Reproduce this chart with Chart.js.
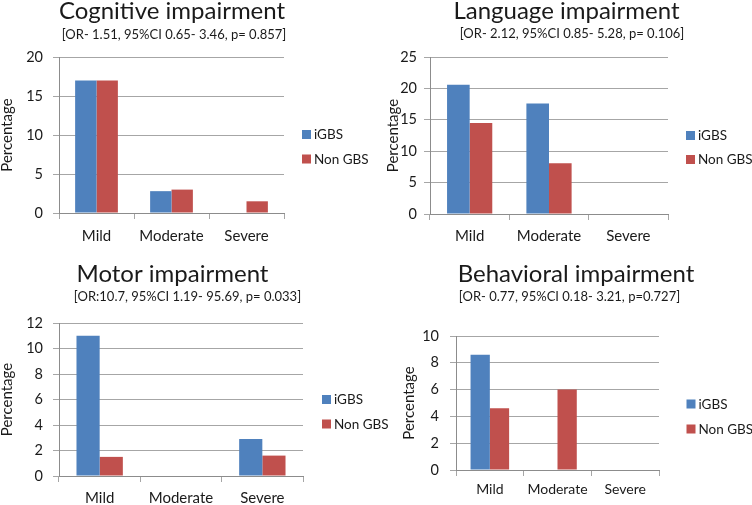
<!DOCTYPE html>
<html>
<head>
<meta charset="utf-8">
<script src="https://cdn.jsdelivr.net/npm/chart.js@4"></script>
<style>
  html, body { margin: 0; padding: 0; background: #ffffff; }
  #wrap { position: relative; width: 752px; height: 505px; overflow: hidden; background: #ffffff; }
  canvas { position: absolute; display: block; }
</style>
</head>
<body>
<div id="wrap">
  <canvas id="cognitive" width="376" height="250" style="left:0px;top:0px"></canvas>
  <canvas id="language" width="376" height="250" style="left:376px;top:0px"></canvas>
  <canvas id="behavioral" width="376" height="255" style="left:376px;top:250px"></canvas>
  <canvas id="motor" width="400" height="255" style="left:0px;top:250px"></canvas>
</div>
<script>
// ---------------- data ----------------
const categories = ['Mild', 'Moderate', 'Severe'];
const seriesNames = ['iGBS', 'Non GBS'];

const cognitiveIGBS = [17, 2.8, 0];
const cognitiveNonGBS = [17, 3.0, 1.5];
const languageIGBS = [20.6, 17.6, 0];
const languageNonGBS = [14.5, 8.1, 0];
const motorIGBS = [11, 0, 2.9];
const motorNonGBS = [1.5, 0, 1.6];
const behavioralIGBS = [8.6, 0, 0];
const behavioralNonGBS = [4.6, 6.0, 0];

const cognitiveTicks = [0, 5, 10, 15, 20];
const languageTicks = [0, 5, 10, 15, 20, 25];
const motorTicks = [0, 2, 4, 6, 8, 10, 12];
const behavioralTicks = [0, 2, 4, 6, 8, 10];

const panelTitles = ['Cognitive impairment', 'Language impairment', 'Motor impairment', 'Behavioral impairment'];
const panelSubtitles = [
  '[OR- 1.51, 95%CI 0.65- 3.46, p= 0.857]',
  '[OR- 2.12, 95%CI 0.85- 5.28, p= 0.106]',
  '[OR:10.7, 95%CI 1.19- 95.69, p= 0.033]',
  '[OR- 0.77, 95%CI 0.18- 3.21, p=0.727]'
];
const yAxisTitle = 'Percentage';

// ---------------- style ----------------
const FONT = 'Lato, "Open Sans", sans-serif';
const TEXT = '#1a1a1a';
const BLUE = '#4F81BD';
const RED = '#C0504D';
const GRID = '#A6A6A6';
const AXIS = '#8C8C8C';

function panelPlugin(L) {
  return {
    id: 'panelText',
    afterDraw(chart) {
      const ctx = chart.ctx;
      ctx.save();
      ctx.fillStyle = TEXT;
      ctx.textAlign = 'center';
      ctx.textBaseline = 'alphabetic';
      ctx.font = L.titleSize + 'px ' + FONT;
      ctx.fillText(L.title, L.titleX, L.titleY);
      ctx.font = L.subSize + 'px ' + FONT;
      ctx.fillText(L.subtitle, L.subX, L.subY);
      ctx.textAlign = 'left';
      ctx.textBaseline = 'middle';
      ctx.font = L.legendSize + 'px ' + FONT;
      chart.data.datasets.forEach((ds, i) => {
        const y = L.legendY[i];
        ctx.fillStyle = ds.backgroundColor;
        ctx.fillRect(L.legendX, y - 4.5, 9, 9);
        ctx.fillStyle = TEXT;
        ctx.fillText(ds.label, L.legendX + 12, y + 0.5);
      });
      ctx.restore();
    }
  };
}

function makeChart(id, ticks, igbs, nonGbs, L) {
  return new Chart(document.getElementById(id), {
    type: 'bar',
    data: {
      labels: categories,
      datasets: [
        { label: seriesNames[0], data: igbs, backgroundColor: BLUE, borderWidth: 0 },
        { label: seriesNames[1], data: nonGbs, backgroundColor: RED, borderWidth: 0 }
      ]
    },
    options: {
      responsive: false,
      animation: false,
      devicePixelRatio: 1,
      layout: { padding: { left: 0, right: L.padRight, top: L.padTop, bottom: 0 } },
      datasets: { bar: { categoryPercentage: 0.57, barPercentage: 1 } },
      plugins: {
        legend: { display: false },
        title: { display: false },
        tooltip: { enabled: false }
      },
      scales: {
        x: {
          grid: { display: true, drawOnChartArea: false, offset: true, tickLength: 6, color: GRID },
          border: { color: AXIS },
          ticks: { padding: L.xPad, color: TEXT, font: { family: FONT, size: L.xSize } },
          afterFit: s => { s.height = L.xH; }
        },
        y: {
          min: ticks[0],
          max: ticks[ticks.length - 1],
          afterBuildTicks: s => { s.ticks = ticks.map(v => ({ value: v })); },
          grid: { color: GRID, tickLength: 6 },
          border: { color: AXIS },
          ticks: { padding: L.yPad, color: TEXT, font: { family: FONT, size: 14.5 } },
          title: {
            display: true, text: yAxisTitle, color: TEXT,
            font: { family: FONT, size: 15, lineHeight: 1 },
            padding: { top: L.yTitlePad, bottom: 0 }
          },
          afterFit: s => { s.width = L.yW; }
        }
      }
    },
    plugins: [panelPlugin(L)]
  });
}

makeChart('cognitive', cognitiveTicks, cognitiveIGBS, cognitiveNonGBS, {
  title: panelTitles[0], subtitle: panelSubtitles[0],
  titleSize: 24, titleX: 172, titleY: 19, subSize: 13, subX: 174, subY: 39,
  legendSize: 13.5, legendX: 302, legendY: [134.5, 159],
  padRight: 92, padTop: 57, xH: 37, yW: 59, yPad: 10, xPad: 8, xSize: 15, yTitlePad: 0
});
makeChart('language', languageTicks, languageIGBS, languageNonGBS, {
  title: panelTitles[1], subtitle: panelSubtitles[1],
  titleSize: 24, titleX: 190.5, titleY: 19, subSize: 13, subX: 196, subY: 38,
  legendSize: 13.5, legendX: 310, legendY: [135.5, 159.5],
  padRight: 84, padTop: 57, xH: 36, yW: 54, yPad: 7, xPad: 7, xSize: 15, yTitlePad: 9.5
});
makeChart('motor', motorTicks, motorIGBS, motorNonGBS, {
  title: panelTitles[2], subtitle: panelSubtitles[2],
  titleSize: 24, titleX: 172.5, titleY: 32, subSize: 13, subX: 187.5, subY: 51,
  legendSize: 13.5, legendX: 322, legendY: [149.5, 174],
  padRight: 97, padTop: 73, xH: 29, yW: 59, yPad: 10, xPad: 7, xSize: 15, yTitlePad: 0
});
makeChart('behavioral', behavioralTicks, behavioralIGBS, behavioralNonGBS, {
  title: panelTitles[3], subtitle: panelSubtitles[3],
  titleSize: 24, titleX: 200, titleY: 32, subSize: 13, subX: 193.5, subY: 51,
  legendSize: 13.5, legendX: 310.5, legendY: [154, 179],
  padRight: 93, padTop: 86, xH: 35, yW: 80, yPad: 11, xPad: 5, xSize: 14, yTitlePad: 25.5
});
</script>
</body>
</html>
